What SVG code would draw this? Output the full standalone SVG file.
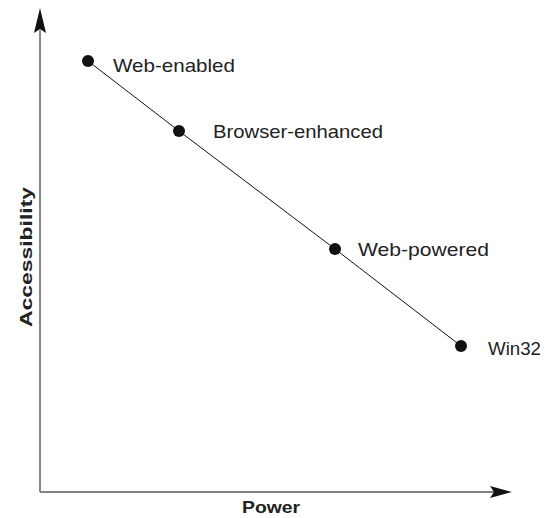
<svg xmlns="http://www.w3.org/2000/svg" width="552" height="518" viewBox="0 0 552 518">
<style>
.lbl{font-family:"Liberation Sans",Arial,sans-serif;font-size:19px;fill:#222}
.ax{font-family:"Liberation Sans",Arial,sans-serif;font-size:17px;font-weight:bold;fill:#222}
.dot{fill:#111}
</style>
<rect width="552" height="518" fill="#fff"/>
<g id="axes">
<line x1="40" y1="30" x2="40" y2="492" stroke="#111" stroke-width="1"/>
<polygon points="40,8 46,33 40,29 34,33" fill="#111"/>
<line x1="40" y1="492" x2="494" y2="492" stroke="#808080" stroke-width="2"/>
<polygon points="512,492 490,486 494,492 490,498" fill="#111"/>
<text class="ax" x="242" y="513" textLength="58" lengthAdjust="spacingAndGlyphs">Power</text>
<text class="ax" transform="translate(32,327) rotate(-90)" textLength="140" lengthAdjust="spacingAndGlyphs">Accessibility</text>
</g>
<g id="connectors">
<polyline points="88,61 179,131 335,249 461,346" fill="none" stroke="#111" stroke-width="1"/>
</g>
<g id="web-enabled"><circle class="dot" cx="88" cy="61" r="6"/><text class="lbl" x="113" y="72" textLength="122" lengthAdjust="spacingAndGlyphs">Web-enabled</text></g>
<g id="browser-enhanced"><circle class="dot" cx="179" cy="131" r="6"/><text class="lbl" x="213" y="138" textLength="170" lengthAdjust="spacingAndGlyphs">Browser-enhanced</text></g>
<g id="web-powered"><circle class="dot" cx="335" cy="249" r="6"/><text class="lbl" x="358" y="256" textLength="131" lengthAdjust="spacingAndGlyphs">Web-powered</text></g>
<g id="win32"><circle class="dot" cx="461" cy="346" r="6"/><text class="lbl" x="488" y="355" textLength="53" lengthAdjust="spacingAndGlyphs">Win32</text></g>
</svg>
